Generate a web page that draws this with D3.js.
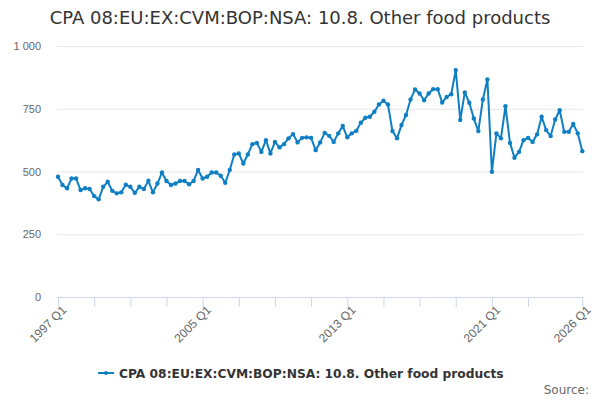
<!DOCTYPE html>
<html>
<head>
<meta charset="utf-8">
<script src="https://cdn.jsdelivr.net/npm/d3@7"></script>
<style>
  body { margin: 0; background: #fff; }
  svg { font-family: "DejaVu Sans", sans-serif; }
</style>
</head>
<body>
<svg id="chart" width="600" height="400"></svg>
<script>
// Quarterly series, 1997 Q1 .. 2026 Q1
const firstYear = 1997;
const values = [
  479, 446, 433, 472, 472, 426, 433, 430, 402, 389, 439, 459, 423, 413, 417, 447, 439, 415, 439, 430, 463, 417, 452, 496,
  462, 446, 452, 462, 462, 449, 462, 506, 472, 479, 496, 496, 483, 455, 506, 568, 572, 532, 568, 609, 614, 578, 625, 572,
  618, 596, 609, 632, 649, 616, 634, 636, 634, 585, 616, 654, 642, 618, 652, 681, 636, 652, 662, 694, 714, 718, 738,
  767, 782, 767, 661, 632, 685, 725, 787, 827, 811, 784, 811, 828, 828, 775, 797, 808, 904, 705, 815, 774, 711, 661,
  787, 867, 499, 652, 632, 760, 614, 555, 578, 625, 634, 618, 648, 718, 665, 641, 707, 744, 658, 658, 689, 652, 581
];
const categories = values.map((v, i) => `${firstYear + Math.floor(i / 4)} Q${i % 4 + 1}`);
const tickLabels = ['1997 Q1', '2005 Q1', '2013 Q1', '2021 Q1', '2026 Q1'];
const yTicks = [0, 250, 500, 750, 1000];

const title = 'CPA 08:EU:EX:CVM:BOP:NSA: 10.8. Other food products';
const lineColor = '#0f7fc4';

const svg = d3.select('#chart');

const x = d3.scalePoint()
  .domain(categories)
  .range([58, 582.3]);

const y = d3.scaleLinear()
  .domain([0, 1000])
  .range([297, 46]);

// unlabeled ticks every two years, plus the last category
const tickCats = categories.filter((c, i) => i % 8 === 0 && i <= 104)
  .concat([categories[categories.length - 1]]);

svg.append('text')
  .attr('x', 300)
  .attr('y', 24)
  .attr('text-anchor', 'middle')
  .style('font-size', '18px')
  .style('fill', '#333')
  .text(title);

// y grid + labels
const yAxis = svg.append('g')
  .attr('transform', 'translate(57,0)')
  .call(d3.axisLeft(y).tickValues(yTicks).tickSize(-526)
    .tickFormat(d => d3.format(',')(d).replace(',', ' ')));
yAxis.select('.domain').remove();
yAxis.selectAll('line').attr('stroke', '#e6e6e6');
yAxis.selectAll('text')
  .attr('x', -16)
  .style('font-size', '11px')
  .style('fill', '#666');

// x axis
const xAxis = svg.append('g')
  .attr('transform', `translate(0,${y(0)})`)
  .call(d3.axisBottom(x).tickValues(tickCats).tickSize(10).tickSizeOuter(0)
    .tickFormat(d => tickLabels.includes(d) ? d : ''));
xAxis.select('.domain').attr('stroke', '#ccd6eb').attr('d', 'M57,0.5H583');
xAxis.selectAll('line').attr('stroke', '#ccd6eb');
xAxis.selectAll('text')
  .attr('transform', 'rotate(-45)')
  .attr('text-anchor', 'end')
  .attr('dx', '-0.3em')
  .attr('dy', '0.9em')
  .attr('y', 5)
  .attr('x', 0)
  .style('font-size', '12px')
  .style('fill', '#666');

// series
const line = d3.line()
  .x((d, i) => x(categories[i]))
  .y(d => y(d));

svg.append('path')
  .datum(values)
  .attr('d', line)
  .attr('fill', 'none')
  .attr('stroke', lineColor)
  .attr('stroke-width', 2)
  .attr('stroke-linejoin', 'round');

svg.append('g')
  .selectAll('circle')
  .data(values)
  .enter()
  .append('circle')
  .attr('cx', (d, i) => x(categories[i]))
  .attr('cy', d => y(d))
  .attr('r', 2.2)
  .attr('fill', lineColor);

// legend
const legend = svg.append('g').attr('transform', 'translate(98,373)');
legend.append('line')
  .attr('x1', 0).attr('x2', 16)
  .attr('stroke', lineColor)
  .attr('stroke-width', 2);
legend.append('circle')
  .attr('cx', 8).attr('r', 2)
  .attr('fill', lineColor);
legend.append('text')
  .attr('x', 21)
  .attr('y', 4.5)
  .style('font-size', '12.25px')
  .style('font-weight', 'bold')
  .style('fill', '#333')
  .text(title);

svg.append('text')
  .attr('x', 589)
  .attr('y', 394)
  .attr('text-anchor', 'end')
  .style('font-size', '12px')
  .style('fill', '#666')
  .text('Source:');
</script>
</body>
</html>
